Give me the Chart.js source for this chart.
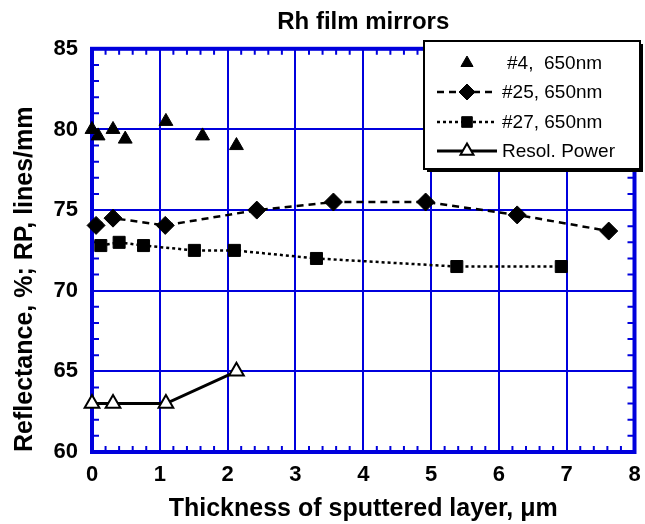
<!doctype html>
<html lang="en">
<head>
  <meta charset="utf-8">
  <title>Rh film mirrors</title>
  <style>
    * { margin: 0; padding: 0; }
    body { background: white; }
    .chartBox { width: 645px; height: 524px; position: relative; }
  </style>
</head>
<body>
<div class="chartBox">
  <canvas id="myChart"></canvas>
</div>

<script src="https://cdn.jsdelivr.net/npm/chart.js"></script>
<script>
  // data
  const s4X  = [0.0, 0.09, 0.31, 0.49, 1.09, 1.63, 2.13];
  const s4Y  = [80.0, 79.6, 80.0, 79.4, 80.5, 79.6, 79.0];
  const s25X = [0.06, 0.31, 1.08, 2.43, 3.56, 4.92, 6.27, 7.62];
  const s25Y = [74.05, 74.5, 74.05, 75.0, 75.5, 75.5, 74.7, 73.7];
  const s27X = [0.13, 0.40, 0.76, 1.51, 2.10, 3.31, 5.38, 6.92];
  const s27Y = [72.8, 73.0, 72.8, 72.5, 72.5, 72.0, 71.5, 71.5];
  const rpX  = [0.0, 0.31, 1.09, 2.13];
  const rpY  = [63, 63, 63, 65];
  const labels = ['#4,  650nm', '#25, 650nm', '#27, 650nm', 'Resol. Power'];

  const BLUE = '#0000dd';
  const FONT = '"Liberation Sans", Arial, sans-serif';

  const pts = (xs, ys) => xs.map((x, i) => ({ x: x, y: ys[i] }));

  // frame with inward minor ticks on all four sides
  const framePlugin = {
    id: 'frame',
    beforeDatasetsDraw(chart) {
      const { ctx, chartArea: a, scales } = chart;
      ctx.save();
      ctx.strokeStyle = BLUE;
      ctx.lineWidth = 2;
      ctx.beginPath();
      for (let i = 1; i < 40; i++) {
        if (i % 5 === 0) continue;
        const px = scales.x.getPixelForValue(i * 0.2);
        ctx.moveTo(px, a.bottom); ctx.lineTo(px, a.bottom - 6);
        ctx.moveTo(px, a.top); ctx.lineTo(px, a.top + 6);
      }
      for (let v = 61; v < 85; v++) {
        if (v % 5 === 0) continue;
        const py = scales.y.getPixelForValue(v);
        ctx.moveTo(a.left, py); ctx.lineTo(a.left + 7, py);
        ctx.moveTo(a.right, py); ctx.lineTo(a.right - 7, py);
      }
      ctx.stroke();
      ctx.lineWidth = 4;
      ctx.strokeRect(a.left, a.top, a.right - a.left, a.bottom - a.top);
      ctx.restore();
    }
  };

  // boxed legend with shadow, top right
  const legendPlugin = {
    id: 'boxLegend',
    afterDraw(chart) {
      const ctx = chart.ctx;
      const bx = 424, by = 41, bw = 216, bh = 128;
      ctx.save();
      ctx.fillStyle = 'black';
      ctx.fillRect(bx + 3, by + 3, bw, bh);
      ctx.fillStyle = 'white';
      ctx.fillRect(bx, by, bw, bh);
      ctx.strokeStyle = 'black';
      ctx.lineWidth = 2;
      ctx.strokeRect(bx, by, bw, bh);
      const rows = [63, 92, 122, 151];
      chart.data.datasets.forEach((ds, i) => {
        const y = rows[i];
        if (ds.showLine) {
          ctx.save();
          ctx.strokeStyle = 'black';
          ctx.lineWidth = ds.borderWidth;
          ctx.setLineDash(ds.borderDash || []);
          ctx.beginPath();
          ctx.moveTo(437, y); ctx.lineTo(497, y);
          ctx.stroke();
          ctx.restore();
        }
        ctx.fillStyle = ds.pointBackgroundColor;
        ctx.strokeStyle = 'black';
        ctx.lineWidth = ds.pointBorderWidth;
        Chart.helpers.drawPoint(ctx, {
          pointStyle: ds.pointStyle, radius: ds.pointRadius - 1,
          rotation: 0, borderWidth: ds.pointBorderWidth
        }, 467, y);
        ctx.fillStyle = 'black';
        ctx.font = '19px ' + FONT;
        ctx.textBaseline = 'middle';
        ctx.fillText(ds.label, i === 0 ? 507 : 502, y + 1);
      });
      ctx.restore();
    }
  };

  const data = {
    datasets: [{
      label: labels[0],
      data: pts(s4X, s4Y),
      showLine: false,
      pointStyle: 'triangle',
      pointRadius: 8,
      pointBackgroundColor: 'black',
      pointBorderColor: 'black',
      pointBorderWidth: 1,
      borderWidth: 0,
      clip: false
    }, {
      label: labels[1],
      data: pts(s25X, s25Y),
      showLine: true,
      borderColor: 'black',
      borderWidth: 2.5,
      borderDash: [7, 5],
      pointStyle: 'rectRot',
      pointRadius: 9,
      pointBackgroundColor: 'black',
      pointBorderColor: 'black',
      pointBorderWidth: 1,
      clip: false
    }, {
      label: labels[2],
      data: pts(s27X, s27Y),
      showLine: true,
      borderColor: 'black',
      borderWidth: 2.5,
      borderDash: [3, 3],
      pointStyle: 'rect',
      pointRadius: 8.5,
      pointBackgroundColor: 'black',
      pointBorderColor: 'black',
      pointBorderWidth: 1,
      clip: false
    }, {
      label: labels[3],
      data: pts(rpX, rpY),
      showLine: true,
      borderColor: 'black',
      borderWidth: 3,
      pointStyle: 'triangle',
      pointRadius: 8.5,
      pointBackgroundColor: 'white',
      pointBorderColor: 'black',
      pointBorderWidth: 2,
      clip: false
    }]
  };

  const config = {
    type: 'scatter',
    data,
    options: {
      responsive: true,
      maintainAspectRatio: false,
      animation: false,
      layout: { padding: { left: 0, right: 0, top: 0, bottom: 0 } },
      scales: {
        x: {
          type: 'linear',
          min: 0, max: 8,
          afterFit: (s) => { s.height = 72; s.paddingLeft = 0; s.paddingRight = 7; },
          grid: { color: BLUE, lineWidth: 2, drawTicks: false },
          border: { display: false },
          ticks: {
            stepSize: 1, padding: 10, color: 'black',
            font: { family: FONT, size: 22, weight: 'bold' }
          },
          title: {
            display: true,
            text: 'Thickness of sputtered layer, μm',
            color: 'black',
            padding: { top: 0, bottom: 0 },
            font: { family: FONT, size: 25, weight: 'bold' }
          }
        },
        y: {
          min: 60, max: 85,
          afterFit: (s) => { s.width = 92; },
          grid: { color: BLUE, lineWidth: 2, drawTicks: false },
          border: { display: false },
          ticks: {
            stepSize: 5, padding: 14, color: 'black',
            font: { family: FONT, size: 22, weight: 'bold' }
          },
          title: {
            display: true,
            text: 'Reflectance, %; RP, lines/mm',
            color: 'black',
            align: 'start',
            padding: { top: 10, bottom: 0 },
            font: { family: FONT, size: 25, weight: 'bold' }
          }
        }
      },
      plugins: {
        legend: { display: false },
        tooltip: { enabled: false },
        title: {
          display: true,
          fullSize: false,
          text: 'Rh film mirrors',
          color: 'black',
          padding: { top: 8, bottom: 12 },
          font: { family: FONT, size: 24, weight: 'bold' }
        }
      }
    },
    plugins: [framePlugin, legendPlugin]
  };

  new Chart(document.getElementById('myChart'), config);
</script>
</body>
</html>
